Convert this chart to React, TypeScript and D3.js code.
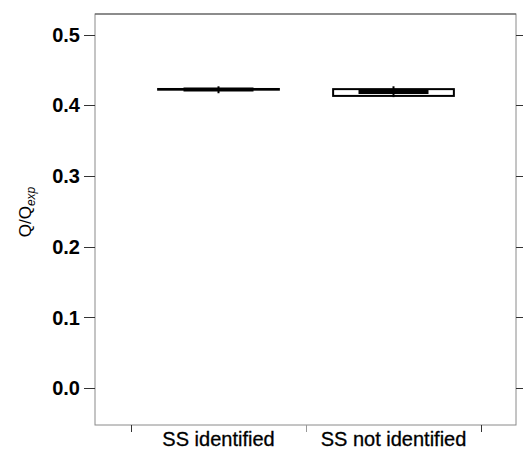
import { useEffect, useRef } from "react";
import * as d3 from "d3";

const groups = ["SS identified", "SS not identified"];
const q1 = [0.422, 0.4132];
const q3 = [0.423, 0.4228];
const means = [0.4224, 0.4186];
const whiskerLow = [0.417, 0.4115];
const whiskerHigh = [0.4268, 0.4268];
const yTicks = [0.0, 0.1, 0.2, 0.3, 0.4, 0.5];

export default function App() {
  const svgRef = useRef<SVGSVGElement | null>(null);
  const width = 523;
  const height = 451;
  const plot = { left: 95, right: 516, top: 14, bottom: 425 };

  useEffect(() => {
    if (!svgRef.current) return;
    const svg = d3.select(svgRef.current);
    svg.selectAll("*").remove();

    const y = d3.scaleLinear().domain([-0.052, 0.529]).range([plot.bottom, plot.top]);
    const x = d3.scaleBand().domain(groups).range([131, 481]).padding(0);
    const boxW = x.bandwidth() * 0.69;
    const meanW = x.bandwidth() * 0.4;

    // frame
    svg.append("rect")
      .attr("x", plot.left).attr("y", plot.top)
      .attr("width", plot.right - plot.left).attr("height", plot.bottom - plot.top)
      .attr("fill", "none").attr("stroke", "#8a8a8a").attr("stroke-width", 1);
    svg.append("line")
      .attr("x1", plot.left).attr("x2", plot.right)
      .attr("y1", plot.top).attr("y2", plot.top)
      .attr("stroke", "#555");

    // y ticks both sides
    yTicks.forEach((t) => {
      const yy = Math.round(y(t)) + 0.5;
      svg.append("line").attr("x1", 84).attr("x2", plot.left).attr("y1", yy).attr("y2", yy).attr("stroke", "#333");
      svg.append("line").attr("x1", plot.right).attr("x2", 523).attr("y1", yy).attr("y2", yy).attr("stroke", "#333");
      svg.append("text")
        .attr("x", 80).attr("y", y(t)).attr("dy", "0.36em")
        .attr("text-anchor", "end")
        .style("font-family", "'Liberation Sans', Arial, sans-serif")
        .style("font-weight", "bold").style("font-size", "20px")
        .text(d3.format(".1f")(t));
    });

    // x ticks on band edges
    const edges = [x.range()[0], ...groups.map((g) => (x(g) ?? 0) + x.bandwidth())];
    edges.forEach((e, i) => {
      const xx = Math.round(e) + 0.5;
      svg.append("line").attr("x1", xx).attr("x2", xx).attr("y1", plot.bottom).attr("y2", 432)
        .attr("stroke", i === 1 ? "#999" : "#333");
    });

    groups.forEach((g) => {
      const cx = (x(g) ?? 0) + x.bandwidth() / 2;
      svg.append("text")
        .attr("x", cx).attr("y", 446)
        .attr("text-anchor", "middle")
        .style("font-family", "'Liberation Sans', Arial, sans-serif")
        .style("font-size", "20px")
        .style("stroke", "#000").style("stroke-width", 0.3)
        .text(g);
    });

    // boxes
    groups.forEach((g, i) => {
      const cx = (x(g) ?? 0) + x.bandwidth() / 2;
      svg.append("rect")
        .attr("x", cx - boxW / 2).attr("y", y(q3[i]))
        .attr("width", boxW).attr("height", y(q1[i]) - y(q3[i]))
        .attr("fill", "#fff").attr("stroke", "#000").attr("stroke-width", 2);
      svg.append("line")
        .attr("x1", cx - meanW / 2).attr("x2", cx + meanW / 2)
        .attr("y1", y(means[i])).attr("y2", y(means[i]))
        .attr("stroke", "#000").attr("stroke-width", 4);
      svg.append("line")
        .attr("x1", cx).attr("x2", cx)
        .attr("y1", y(whiskerHigh[i])).attr("y2", y(whiskerLow[i]))
        .attr("stroke", "#000").attr("stroke-width", 2);
    });

    // y label
    const lab = svg.append("text")
      .attr("transform", `translate(31, 212) rotate(-90)`)
      .attr("text-anchor", "middle")
      .style("font-family", "'Liberation Sans', Arial, sans-serif")
      .style("font-size", "17px");
    lab.append("tspan").text("Q/Q");
    lab.append("tspan").attr("dy", 4).style("font-size", "12px").style("font-style", "italic").text("exp");
  }, []);

  return (
    <svg ref={svgRef} width={width} height={height}
      style={{ position: "absolute", left: 0, top: 0, background: "#fff" }} />
  );
}
